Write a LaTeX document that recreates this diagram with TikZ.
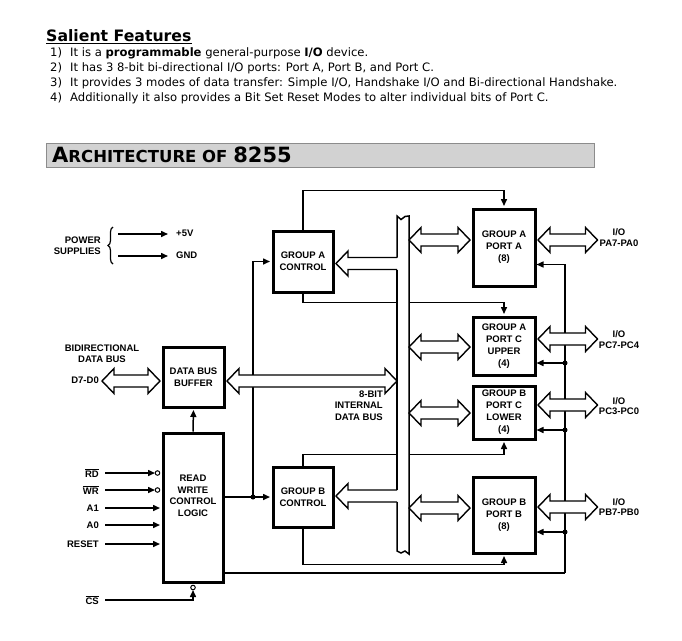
\documentclass[tikz,border=0pt]{standalone}
\usepackage{fontspec}
\setmainfont{Liberation Sans}
\newfontfamily\verd{DejaVu Sans}
\usetikzlibrary{calc,arrows.meta,decorations.pathreplacing}
\definecolor{hdr}{RGB}{210,210,210}
\definecolor{hdrb}{RGB}{140,140,140}
\newcommand\dg{\fontsize{9.5}{12}\selectfont\bfseries}
\newcommand\dgt{\fontsize{9.5}{10.5}\selectfont\bfseries}
\newcommand\lst{\verd\fontsize{11.6}{13}\selectfont}
% double-headed hollow arrow: #1 left tip, #2 right tip
\newcommand\hdbl[2]{%
  \draw[hol, fill=white] (#1) -- ++(12,-12.5) -- ++(0,6.5) -- ($(#2)+(-12,-6)$) -- ++(0,-6.5) -- (#2)
    -- ++(-12,12.5) -- ++(0,-6.5) -- ($(#1)+(12,6)$) -- ++(0,6.5) -- cycle;}
% left-pointing hollow arrow: #1 tip, #2 open tail
\newcommand\hleft[2]{%
  \fill[white] (#1) -- ++(12,-12.5) -- ++(0,6.5) -- ($(#2)+(0,-6)$) -- ($(#2)+(0,6)$) -- ($(#1)+(12,6)$) -- ++(0,6.5) -- cycle;
  \draw[hol] ($(#2)+(0,-6)$) -- ($(#1)+(12,-6)$) -- ++(0,-6.5) -- (#1) -- ++(12,12.5) -- ++(0,-6.5) -- ($(#2)+(0,6)$);}
\begin{document}
\begin{tikzpicture}[x=1pt,y=-1pt,
  box/.style={draw, line width=3pt, align=center, inner sep=0pt, font=\dg},
  wire/.style={line width=1.5pt},
  arr/.style={line width=1.5pt, -{Triangle[length=7pt,width=6pt]}, shorten >=1.5pt},
  hol/.style={line width=1.4pt, line join=miter},
  lbl/.style={inner sep=0pt, font=\dgt, align=center},
  dot/.style={circle, fill, inner sep=0pt, minimum size=5pt},
  bub/.style={circle, draw, line width=1pt, fill=white, inner sep=0pt, minimum size=4.5pt}]
\useasboundingbox (0,0) rectangle (682,640);

% ---------- top text ----------
\node[anchor=base west, inner sep=0pt, font=\verd\bfseries\fontsize{15.7}{18}\selectfont] (sf) at (46,41) {Salient Features};
\draw[line width=1.3pt] ($(sf.base west)+(0,2.5)$) -- ($(sf.base east)+(0,2.5)$);
\node[anchor=base west, inner sep=0pt, font=\lst] (l1) at (50,56) {\makebox[20pt][l]{1)}It is a \textbf{programmable} general-purpose \textbf{I/O} device.};
\node[anchor=base west, inner sep=0pt, font=\lst] (l2) at (50,71) {\makebox[20pt][l]{2)}It has 3 8-bit bi-directional I/O ports: Port A, Port B, and Port C.};
\node[anchor=base west, inner sep=0pt, font=\lst] (l3) at (50,86) {\makebox[20pt][l]{3)}It provides 3 modes of data transfer: Simple I/O, Handshake I/O and Bi-directional Handshake.};
\node[anchor=base west, inner sep=0pt, font=\lst] (l4) at (50,101) {\makebox[20pt][l]{4)}Additionally it also provides a Bit Set Reset Modes to alter individual bits of Port C.};

\draw[fill=hdr, draw=hdrb, line width=1pt] (46,143) rectangle (594,167);
\node[anchor=base west, inner sep=0pt] (ar) at (52,162.5) {\verd\bfseries\fontsize{21}{22}\selectfont A\fontsize{16.5}{18}\selectfont RCHITECTURE OF \fontsize{21}{22}\selectfont 8255};

% ---------- boxes ----------
\node[box, minimum width=60pt, minimum height=61pt] (gac) at (303,261.5) {GROUP A\\CONTROL};
\node[box, minimum width=60pt, minimum height=60pt] (gbc) at (303,497) {GROUP B\\CONTROL};
\node[box, minimum width=61pt, minimum height=60pt] (dbb) at (193.5,377) {DATA BUS\\BUFFER};
\node[box, minimum width=60pt, minimum height=149pt] (rw) at (193,507.5) {};
\node[lbl, font=\fontsize{9.5}{11.5}\selectfont\bfseries] (rwt) at (193,496) {READ\\WRITE\\CONTROL\\LOGIC};
\node[box, minimum width=62pt, minimum height=77pt] (pa) at (504,247.5) {GROUP A\\PORT A\\(8)};
\node[box, minimum width=62pt, minimum height=58pt] (pcu) at (504,346) {GROUP A\\PORT C\\UPPER\\(4)};
\node[box, minimum width=62pt, minimum height=53pt] (pcl) at (504,412.5) {GROUP B\\PORT C\\LOWER\\(4)};
\node[box, minimum width=62pt, minimum height=76pt] (pb) at (504,515) {GROUP B\\PORT B\\(8)};

% ---------- power supplies ----------
\node[lbl, align=right, anchor=east] (pw) at (101,245.5) {POWER\\SUPPLIES};
\draw[line width=1.2pt, decorate, decoration={brace, amplitude=5pt}] (113,264) -- (113,227);
\coordinate (p5) at (118,234);
\coordinate (pg) at (118,256);
\node[lbl, anchor=west] (v5) at (176,233.5) {+5V};
\node[lbl, anchor=west] (gnd) at (176,255.5) {GND};
\draw[arr, shorten >=0pt] (p5) -- ($(p5 -| v5.west)+(-8,0)$);
\draw[arr, shorten >=0pt] (pg) -- ($(pg -| gnd.west)+(-8,0)$);

% ---------- control wires ----------
\draw[arr] (gac.north) |- ($(pa.north)+(0,-17)$) -- (pa.north);
\draw[arr] (gac.south) |- ($(pcu.north)+(0,-13)$) -- (pcu.north);
\draw[arr] (gbc.north) |- ($(pcl.south)+(0,14)$) -- (pcl.south);
\draw[arr] (gbc.south) |- ($(pb.south)+(0,10)$) -- (pb.south);

\coordinate (j1) at (253,497);
\draw[wire] (rw.east |- j1) -- (j1);
\draw[arr] (j1) -- (gbc.west);
\draw[arr] (j1) |- (gac.west);
\draw[arr] (rw.north) -- (dbb.south);

\coordinate (rb) at (565,573);
\coordinate (tA) at ($(pa.east)+(0,17)$);
\coordinate (tCU) at ($(pcu.east)+(0,17)$);
\coordinate (tCL) at ($(pcl.east)+(0,17.5)$);
\coordinate (tB) at ($(pb.east)+(0,17)$);
\draw[wire] (rw.east |- rb) -- (rb);
\draw[arr, shorten >=-1.5pt] (rb) |- ($(tA)+(1.5,0)$);
\draw[arr, shorten >=-1.5pt] (rb |- tCU) -- ($(tCU)+(1.5,0)$);
\draw[arr, shorten >=-1.5pt] (rb |- tCL) -- ($(tCL)+(1.5,0)$);
\draw[arr, shorten >=-1.5pt] (rb |- tB) -- ($(tB)+(1.5,0)$);

% ---------- inputs ----------
\coordinate (rd) at (105,473);
\coordinate (wr) at (105,490);
\coordinate (aa1) at (105,508);
\coordinate (aa0) at (105,525);
\coordinate (rst) at (105,544);
\coordinate (cs) at (105,600);
\node[lbl, anchor=east] (rdl) at ($(rd)+(-6,0)$) {$\overline{\mbox{RD}}$};
\node[lbl, anchor=east] (wrl) at ($(wr)+(-6,0)$) {$\overline{\mbox{WR}}$};
\node[lbl, anchor=east] (a1l) at ($(aa1)+(-6,0)$) {A1};
\node[lbl, anchor=east] (a0l) at ($(aa0)+(-6,0)$) {A0};
\node[lbl, anchor=east] (rstl) at ($(rst)+(-6,0)$) {RESET};
\node[lbl, anchor=east] (csl) at ($(cs)+(-6,0)$) {$\overline{\mbox{CS}}$};
\draw[arr, shorten >=0pt] (rd) -- ($(rd -| rw.west)+(-6.5,0)$);
\draw[arr, shorten >=0pt] (wr) -- ($(wr -| rw.west)+(-6.5,0)$);
\draw[arr] (aa1) -- (aa1 -| rw.west);
\draw[arr] (aa0) -- (aa0 -| rw.west);
\draw[arr] (rst) -- (rst -| rw.west);
\draw[arr, shorten >=0pt] (cs) -| ($(rw.south)+(0,6.5)$);

% ---------- internal bus ----------
\coordinate (bL) at (397,216);
\coordinate (bR) at (409,216);
\fill[white] (397,216) -- (401,219.5) -- (405,216.5) -- (409,216) -- (409,554) -- (405,551) -- (401,553) -- (397,551) -- cycle;
\draw[wire] (397,257.5) -- (397,216) -- (401,219.5) -- (405,216.5) -- (409,216) -- (409,554) -- (405,551) -- (401,553) -- (397,551) -- (397,502);
\draw[wire] (397,269.5) -- (397,490);
\node[lbl, align=right, anchor=east, font=\fontsize{9.5}{11.5}\selectfont\bfseries] (ibl) at (383,405.5) {8-BIT\\INTERNAL\\DATA BUS};

% ---------- hollow arrows ----------
\coordinate (dL) at (102,381);
\coordinate (dR) at ($(dbb.west |- dL)+(-1.5,0)$);
\hdbl{dL}{dR}
\coordinate (eL) at ($(dbb.east |- dL)+(1.5,0)$);
\coordinate (eR) at (bL |- dL);
\hdbl{eL}{eR}
\coordinate (ga) at ($(gac.east)+(1.5,2)$);
\coordinate (gaT) at (bL |- ga);
\hleft{ga}{gaT}
\coordinate (gb) at ($(gbc.east)+(1.5,-1)$);
\coordinate (gbT) at (bL |- gb);
\hleft{gb}{gbT}

\coordinate (qA) at ($(pa.west)+(-1.5,-7.5)$);
\coordinate (qAl) at (bR |- qA);
\hdbl{qAl}{qA}
\coordinate (qCU) at ($(pcu.west)+(-1.5,1)$);
\coordinate (qCUl) at (bR |- qCU);
\hdbl{qCUl}{qCU}
\coordinate (qCL) at ($(pcl.west)+(-1.5,0.5)$);
\coordinate (qCLl) at (bR |- qCL);
\hdbl{qCLl}{qCL}
\coordinate (qB) at ($(pb.west)+(-1.5,-7)$);
\coordinate (qBl) at (bR |- qB);
\hdbl{qBl}{qB}

\coordinate (oA) at ($(pa.east)+(1.5,-7.5)$);
\coordinate (oAr) at ($(pa.east)+(61,-7.5)$);
\hdbl{oA}{oAr}
\coordinate (oCU) at ($(pcu.east)+(1.5,-7)$);
\coordinate (oCUr) at ($(pcu.east)+(61,-7)$);
\hdbl{oCU}{oCUr}
\coordinate (oCL) at ($(pcl.east)+(1.5,-7.5)$);
\coordinate (oCLr) at ($(pcl.east)+(61,-7.5)$);
\hdbl{oCL}{oCLr}
\coordinate (oB) at ($(pb.east)+(1.5,-8)$);
\coordinate (oBr) at ($(pb.east)+(61,-8)$);
\hdbl{oB}{oBr}

\node[lbl, font=\dgt] (ioa) at (619,237.5) {I/O\\PA7-PA0};
\node[lbl, font=\dgt] (iocu) at (619,339.5) {I/O\\PC7-PC4};
\node[lbl, font=\dgt] (iocl) at (619,406) {I/O\\PC3-PC0};
\node[lbl, font=\dgt] (iob) at (619,507) {I/O\\PB7-PB0};

\node[lbl, font=\fontsize{9.5}{11}\selectfont\bfseries] (bdl) at (102,353.5) {BIDIRECTIONAL\\DATA BUS};
\node[lbl, anchor=east] (d7l) at (99,380) {D7-D0};

% ---------- dots and bubbles ----------
\node[dot] (dj1) at (j1) {};
\node[dot] (dcu) at (rb |- tCU) {};
\node[dot] (dcl) at (rb |- tCL) {};
\node[dot] (db) at (rb |- tB) {};
\node[bub] (brd) at ($(rd -| rw.west)+(-4,0)$) {};
\node[bub] (bwr) at ($(wr -| rw.west)+(-4,0)$) {};
\node[bub] (bcs) at ($(rw.south)+(0,4)$) {};
\end{tikzpicture}
\end{document}
